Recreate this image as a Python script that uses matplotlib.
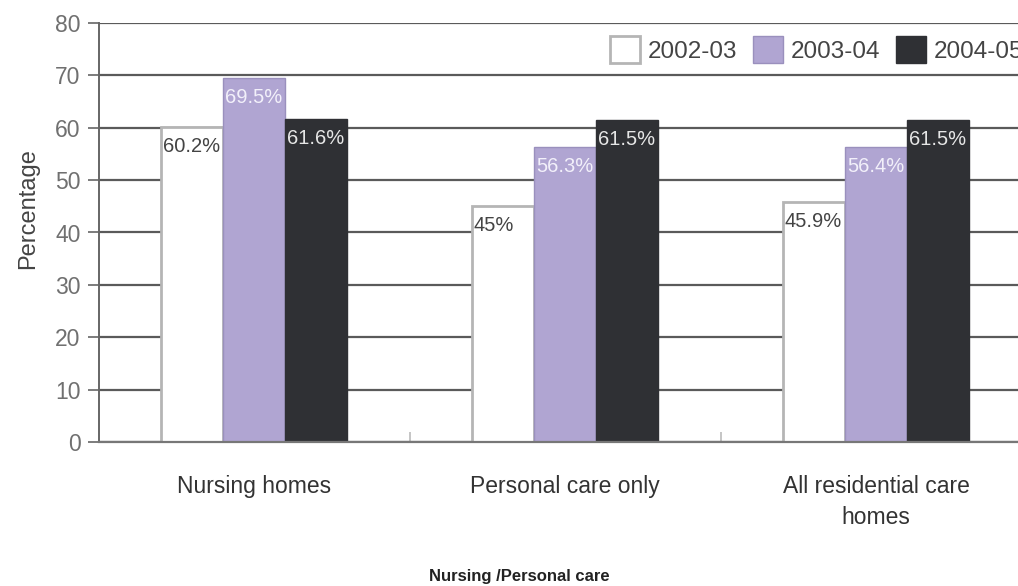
import numpy as np
import matplotlib
matplotlib.use('Agg')
import matplotlib.pyplot as plt

categories = ['Nursing homes', 'Personal care only', 'All residential care\nhomes']
years = ['2002-03', '2003-04', '2004-05']
vals_0203 = [60.2, 45, 45.9]
vals_0304 = [69.5, 56.3, 56.4]
vals_0405 = [61.6, 61.5, 61.5]
bar_labels = [['60.2%', '45%', '45.9%'],
              ['69.5%', '56.3%', '56.4%'],
              ['61.6%', '61.5%', '61.5%']]

plt.rcParams['font.family'] = ['Liberation Sans', 'DejaVu Sans']

fig = plt.figure(figsize=(10.18, 5.86), dpi=100)
ax = fig.add_axes([98.5 / 1018, 1 - 442 / 586, 933 / 1018, 419 / 586])

x = np.arange(len(categories))
w = 0.2
series = [vals_0203, vals_0304, vals_0405]
faces = ['white', '#b0a5d2', '#2f3034']
edges = ['#b5b5b5', '#9a90bd', '#2f3034']
lws = [2.0, 1.0, 1.0]
txtc = ['#444444', '#f2f0fa', '#e6e6e6']

for i, vals in enumerate(series):
    pos = x + (i - 1) * w
    ax.bar(pos, vals, w, color=faces[i], edgecolor=edges[i], linewidth=lws[i],
           label=years[i], zorder=2)
    for p, v, lab in zip(pos, vals, bar_labels[i]):
        ax.text(p - w / 2 + 0.006, v - 1.9, lab, ha='left', va='top',
                fontsize=14.5, color=txtc[i], zorder=3)

ax.set_xlim(-0.5, 2.5)
ax.set_ylim(0, 80)
ax.set_yticks(np.arange(0, 81, 10))
ax.yaxis.grid(True, color='#5a5a5a', linewidth=1.6)
ax.set_axisbelow(True)

ax.set_xticks(x)
ax.set_xticklabels(categories, fontsize=16.5, color='#333333', linespacing=1.45)
ax.tick_params(axis='x', length=0, pad=24)
ax.set_xticks([0.5, 1.5], minor=True)
ax.tick_params(axis='x', which='minor', direction='in', length=7, color='#bbbbbb', width=1.2)
ax.tick_params(axis='y', length=8, width=1.2, color='#666666', labelsize=16.5,
               labelcolor='#707070', pad=5)

for s in ['top', 'right']:
    ax.spines[s].set_visible(False)
ax.spines['left'].set_color('#666666')
ax.spines['left'].set_linewidth(1.4)
ax.spines['bottom'].set_color('#777777')
ax.spines['bottom'].set_linewidth(1.6)

ax.set_ylabel('Percentage', fontsize=17, color='#444444')
ax.yaxis.set_label_coords(-0.064, 0.556)

leg = ax.legend(loc='center left', bbox_to_anchor=(0.544, 0.936), ncol=3,
                fontsize=17.5, frameon=True, facecolor='white', edgecolor='none',
                framealpha=1, handlelength=1.25, handleheight=1.35,
                handletextpad=0.3, columnspacing=0.65, borderpad=0.15,
                borderaxespad=0)
for t in leg.get_texts():
    t.set_color('#444444')

fig.text(519 / 1018, 1 - 576 / 586, 'Nursing /Personal care', ha='center', va='center',
         fontsize=12, fontweight='bold', color='#222222')

fig.savefig('out.png', dpi=100)
